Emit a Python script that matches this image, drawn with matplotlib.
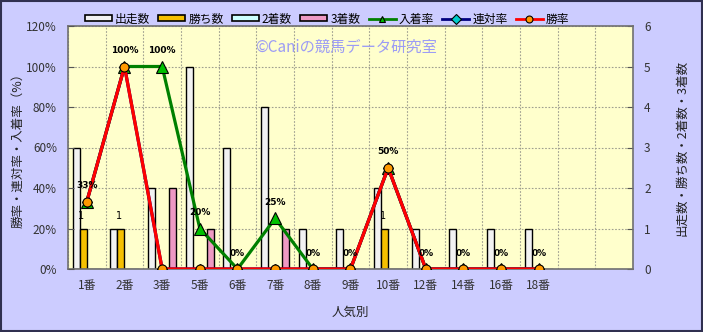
import matplotlib
matplotlib.use('Agg')
import matplotlib.pyplot as plt
import numpy as np
from matplotlib.patches import Rectangle, Patch
from matplotlib.lines import Line2D

plt.rcParams['font.family'] = ['Noto Sans CJK JP', 'DejaVu Sans']

categories = ['1番', '2番', '3番', '5番', '6番', '7番', '8番', '9番', '10番', '12番', '14番', '16番', '18番']
starts = [3, 1, 2, 5, 3, 4, 1, 1, 2, 1, 1, 1, 1]
wins = [1, 1, 0, 0, 0, 0, 0, 0, 1, 0, 0, 0, 0]
seconds = [0, 0, 0, 0, 0, 0, 0, 0, 0, 0, 0, 0, 0]
thirds = [0, 0, 2, 1, 0, 1, 0, 0, 0, 0, 0, 0, 0]
place_rate = [33.3, 100, 100, 20, 0, 25, 0, 0, 50, 0, 0, 0, 0]
quinella_rate = [33.3, 100, 0, 0, 0, 0, 0, 0, 50, 0, 0, 0, 0]
win_rate = [33.3, 100, 0, 0, 0, 0, 0, 0, 50, 0, 0, 0, 0]
n_slots = 15

W, H = 703, 332
fig = plt.figure(figsize=(W / 100, H / 100), dpi=100)
fig.patch.set_facecolor('#CCCCFF')
fig.patches.append(Rectangle((0.001, 0.002), 0.997, 0.995, transform=fig.transFigure,
                             fill=False, edgecolor='#303050', linewidth=1.5))

left, right, top, bottom = 68, 633, 26, 269
ax = fig.add_axes([left / W, 1 - bottom / H, (right - left) / W, (bottom - top) / H])
ax.set_facecolor('#FFFFCC')

x = np.arange(len(categories))
bw = 0.1875
bar_specs = [
    (starts, '#F2F2F2', '出走数'),
    (wins, '#F5C000', '勝ち数'),
    (seconds, '#CCFFFF', '2着数'),
    (thirds, '#EE99C4', '3着数'),
]
handles = []
for i, (vals, col, lab) in enumerate(bar_specs):
    ax.bar(x + (i - 1.5) * bw, vals, width=bw, color=col, edgecolor='black', linewidth=1.0, zorder=2)
    handles.append(Patch(facecolor=col, edgecolor='black', linewidth=1.2, label=lab))

for xi, v in zip(x, wins):
    if v > 0:
        ax.annotate(f'{v}', (xi - 0.5 * bw, v), xytext=(-1.5, 9), textcoords='offset points',
                    ha='center', va='center', fontsize=7, color='black', family='DejaVu Sans',
                    zorder=5)

ax.set_xlim(-0.5, n_slots - 0.5)
ax.set_ylim(0, 6)
ax.set_xticks(x)
ax.set_xticklabels(categories, fontsize=8.5, color='#333333')
ax.set_xticks(np.arange(-0.5, n_slots, 1), minor=True)
ax.tick_params(axis='x', which='both', length=0, pad=7)
ax.set_yticks(range(0, 7))
ax.grid(True, which='minor', axis='x', linestyle=(0, (1.5, 1.5)), color='#A0A090', linewidth=0.8)
ax.grid(True, which='major', axis='y', linestyle=(0, (1.5, 1.5)), color='#A0A090', linewidth=0.8)
ax.set_axisbelow(True)
ax.set_xlabel('人気別', fontsize=9, color='#222222', labelpad=10)
for s in ax.spines.values():
    s.set_color('#707070')
    s.set_linewidth(1.2)

ax2 = ax.twinx()
# counts on the right, percentages on the left
ax.yaxis.tick_right()
ax.yaxis.set_label_position('right')
ax.tick_params(axis='y', direction='in', length=4, labelsize=8.5, labelcolor='#333333', pad=8, color='#555555')
ax.set_ylabel('出走数・勝ち数・2着数・3着数', rotation=90, labelpad=18, fontsize=9, color='#222222')

ax2.set_ylim(0, 120)
ax2.yaxis.tick_left()
ax2.yaxis.set_label_position('left')
ax2.set_yticks(range(0, 121, 20))
ax2.set_yticklabels([f'{v}%' for v in range(0, 121, 20)])
ax2.tick_params(axis='y', direction='in', length=4, labelsize=8.5, labelcolor='#333333', pad=8, color='#555555')
ax2.set_ylabel('勝率・連対率・入着率（%）', fontsize=9, color='#222222', labelpad=1)
for s in ax2.spines.values():
    s.set_visible(False)

l1, = ax2.plot(x, place_rate, color='#008000', linewidth=2.3, marker='^', markersize=8,
               markerfacecolor='#00C000', markeredgecolor='black', markeredgewidth=0.8, zorder=3,
               label='入着率')
l2, = ax2.plot(x, quinella_rate, color='#000080', linewidth=2.3, marker='D', markersize=5,
               markerfacecolor='#00CCCC', markeredgecolor='black', markeredgewidth=0.8, zorder=4,
               label='連対率')
l3, = ax2.plot(x, win_rate, color='#FF0000', linewidth=2.3, marker='o', markersize=6.5,
               markerfacecolor='#FF9900', markeredgecolor='black', markeredgewidth=0.8, zorder=5,
               label='勝率')
handles += [l1, l2, l3]

for xi, v in zip(x, place_rate):
    ax2.annotate(f'{v:.0f}%', (xi, v), xytext=(0, 11.5), textcoords='offset points',
                 ha='center', va='center', fontsize=6.5, fontweight='bold', color='black',
                 family='DejaVu Sans', zorder=6)

ax2.text(255 / W, 1 - 47 / H, '©Caniの競馬データ研究室', transform=fig.transFigure,
         fontsize=11, color='#9C9CF5', ha='left', va='center')

leg = fig.legend(handles=handles, loc='center', bbox_to_anchor=(327 / W, 1 - 19 / H), ncol=7,
                 frameon=False, fontsize=8.5, handlelength=2.3, handleheight=0.45, handletextpad=0.25,
                 columnspacing=0.7, borderaxespad=0)
for lh in leg.legend_handles[4:]:
    lh.set_markersize(5)
    lh.set_linewidth(2)

fig.savefig('out.png', dpi=100, facecolor=fig.get_facecolor())
